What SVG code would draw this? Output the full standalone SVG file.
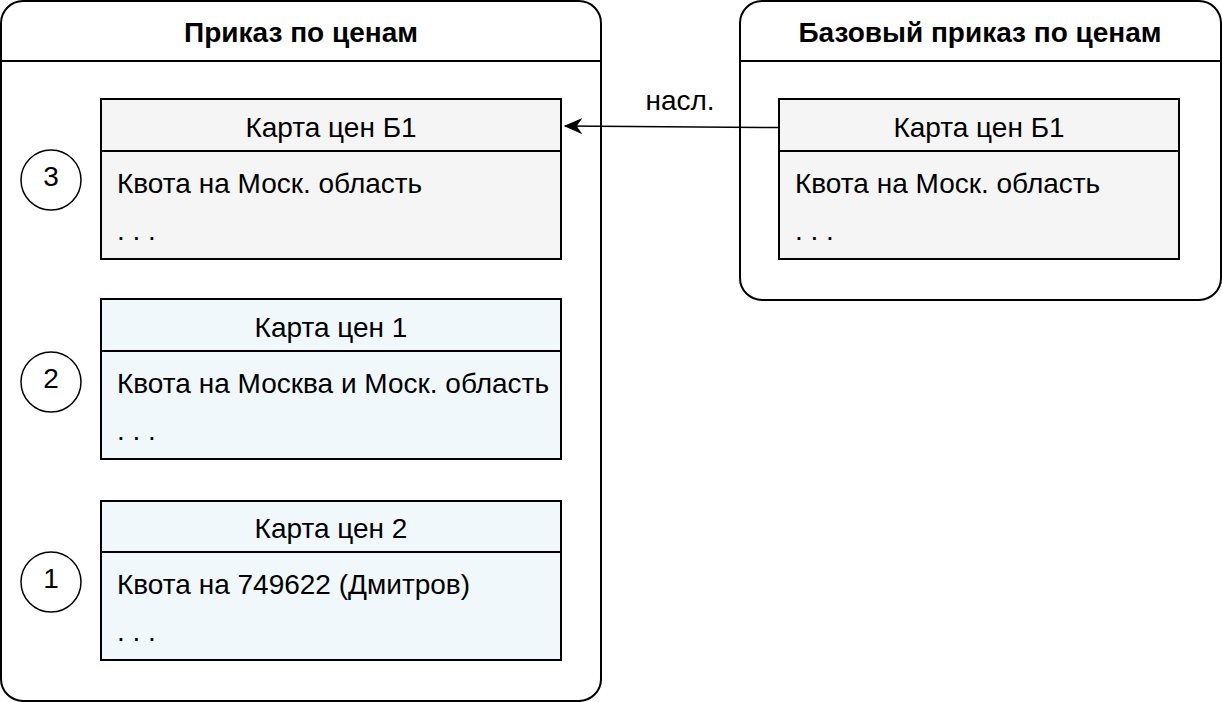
<svg xmlns="http://www.w3.org/2000/svg" width="1222" height="702" viewBox="0 0 1222 702">
<style>
text{font-family:"Liberation Sans",Arial,sans-serif;fill:#000}
.title{font-size:28px;font-weight:bold;text-anchor:middle}
.hdr{font-size:28px;text-anchor:middle}
.body{font-size:28px}
.lbl{font-size:28px;text-anchor:middle}
.cont{fill:#fff;stroke:#000;stroke-width:2}
.line{stroke:#000;stroke-width:2}
.grey{fill:#f5f5f5;stroke:#000;stroke-width:2}
.blue{fill:#f0f8fc;stroke:#000;stroke-width:2}
.circ{fill:#fff;stroke:#000;stroke-width:1.5}
</style>
<defs>
<marker id="arr" markerWidth="20" markerHeight="18" refX="17" refY="8" orient="auto" markerUnits="userSpaceOnUse">
<path d="M1,1 L17,8 L1,15 L6,8 Z" fill="#000" stroke="#000" stroke-width="1"/>
</marker>
</defs>
<g id="order">
<rect class="cont" x="1" y="1" width="600" height="700" rx="22" ry="22"/>
<line class="line" x1="1" y1="61" x2="601" y2="61"/>
<text class="title" x="301" y="42">Приказ по ценам</text>
</g>
<g id="base-order">
<rect class="cont" x="740" y="1" width="481" height="299" rx="22" ry="22"/>
<line class="line" x1="740" y1="61" x2="1221" y2="61"/>
<text class="title" x="980" y="42">Базовый приказ по ценам</text>
</g>
<g id="card-b1">
<rect class="grey" x="101" y="99" width="460" height="160"/>
<line class="line" x1="101" y1="151" x2="561" y2="151"/>
<text class="hdr" x="331" y="137">Карта цен Б1</text>
<text class="body" x="117" y="193">Квота на Моск. область</text>
<text class="body" x="117" y="240">. . .</text>
</g>
<g id="card-1">
<rect class="blue" x="101" y="299" width="460" height="160"/>
<line class="line" x1="101" y1="351" x2="561" y2="351"/>
<text class="hdr" x="331" y="337">Карта цен 1</text>
<text class="body" x="117" y="393">Квота на Москва и Моск. область</text>
<text class="body" x="117" y="440">. . .</text>
</g>
<g id="card-2">
<rect class="blue" x="101" y="501" width="460" height="159"/>
<line class="line" x1="101" y1="552" x2="561" y2="552"/>
<text class="hdr" x="331" y="538">Карта цен 2</text>
<text class="body" x="117" y="594">Квота на 749622 (Дмитров)</text>
<text class="body" x="117" y="641">. . .</text>
</g>
<g id="base-card-b1">
<rect class="grey" x="779" y="99" width="400" height="160"/>
<line class="line" x1="779" y1="151" x2="1179" y2="151"/>
<text class="hdr" x="979" y="137">Карта цен Б1</text>
<text class="body" x="795" y="193">Квота на Моск. область</text>
<text class="body" x="795" y="240">. . .</text>
</g>
<g id="num-3">
<circle class="circ" cx="51" cy="180" r="30"/>
<text class="lbl" x="51" y="186">3</text>
</g>
<g id="num-2">
<circle class="circ" cx="51" cy="382" r="30"/>
<text class="lbl" x="51" y="388">2</text>
</g>
<g id="num-1">
<circle class="circ" cx="51" cy="582" r="30"/>
<text class="lbl" x="51" y="588">1</text>
</g>
<g id="connectors">
<path d="M779,127.5 L565,126" fill="none" stroke="#000" stroke-width="1.5" marker-end="url(#arr)"/>
<text class="lbl" x="680" y="110">насл.</text>
</g>
</svg>
